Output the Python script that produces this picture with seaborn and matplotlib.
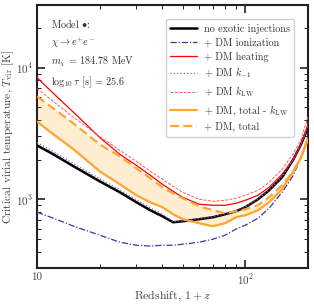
import numpy as np
import pandas as pd
import matplotlib
matplotlib.use("Agg")
import matplotlib.pyplot as plt
import seaborn as sns
from matplotlib.ticker import FixedLocator, FixedFormatter, NullFormatter

# Redshift (1+z)
redshift = [10, 12, 15, 20, 25, 30, 35, 40, 45, 50, 60, 70, 80, 90, 100, 115, 130, 150, 170, 185, 200]

# Critical virial temperature [K]
t_none = [2565, 2193, 1778, 1369, 1130, 949, 825, 743, 669, 681, 706, 731, 770, 811, 870, 1000, 1170, 1468, 2009, 2610, 3510]
t_ion = [797, 718, 624, 534, 472, 448, 441, 448, 448, 456, 472, 498, 534, 593, 636, 718, 855, 1130, 1520, 2081, 2950]
t_heat = [8400, 6356, 4563, 2950, 2193, 1810, 1520, 1299, 1150, 1036, 917, 901, 901, 933, 983, 1072, 1233, 1547, 2009, 2610, 3700]
t_km1 = [2700, 2300, 1860, 1430, 1180, 990, 860, 770, 675, 686, 711, 736, 775, 816, 875, 1005, 1175, 1475, 2020, 2620, 3520]
t_klw = [6934, 5527, 4180, 3000, 2350, 1940, 1630, 1418, 1254, 1130, 1000, 966, 983, 1018, 1072, 1170, 1345, 1688, 2230, 2848, 4254]
t_tot_noklw = [3899, 3108, 2392, 1630, 1299, 1072, 949, 870, 770, 706, 658, 624, 658, 731, 756, 825, 949, 1191, 1630, 2081, 2848]
t_tot = [6026, 4893, 3765, 2610, 2117, 1717, 1443, 1233, 1110, 1018, 885, 825, 783, 811, 840, 901, 1036, 1277, 1630, 2081, 2950]

labels = ["no exotic injections", "+ DM ionization", "+ DM heating", r"+ DM $k_{-1}$",
          r"+ DM $k_{\rm LW}$", r"+ DM, total - $k_{\rm LW}$", "+ DM, total"]

sns.set_theme(style="ticks")
plt.rcParams.update({
    "font.family": "serif",
    "font.serif": ["cmr10", "DejaVu Serif"],
    "mathtext.fontset": "cm",
    "axes.unicode_minus": False,
    "axes.formatter.use_mathtext": True,
})

fig = plt.figure(figsize=(3.14, 3.04), dpi=100)
ax = fig.add_axes([0.118, 0.118, 0.863, 0.866])

ax.fill_between(redshift, t_tot_noklw, t_tot, color="#FFA500", alpha=0.18, lw=0, zorder=1)

styles = [
    (t_none, "black", "-", 1.8, labels[0]),
    (t_ion, "#3a3aa8", (0, (5, 1.5, 1, 1.5)), 0.9, labels[1]),
    (t_heat, "red", "-", 0.9, labels[2]),
    (t_km1, "#9a4fd0", ":", 0.9, labels[3]),
    (t_klw, "#f06060", (0, (3, 1.5)), 0.7, labels[4]),
    (t_tot_noklw, "#FFA530", "-", 1.6, labels[5]),
    (t_tot, "#FFA530", (0, (4, 2)), 1.6, labels[6]),
]
for vals, col, ls, lw, lab in styles:
    sns.lineplot(x=redshift, y=vals, color=col, linestyle=ls, linewidth=lw,
                 label=lab, ax=ax, sort=False, zorder=3)

ax.set_xscale("log")
ax.set_yscale("log")
ax.set_xlim(10, 200)
ax.set_ylim(300, 30000)

ax.xaxis.set_major_locator(FixedLocator([10, 100]))
ax.xaxis.set_major_formatter(FixedFormatter(["10", r"$10^2$"]))
ax.xaxis.set_minor_locator(FixedLocator([20, 30, 40, 50, 60, 70, 80, 90, 200]))
ax.xaxis.set_minor_formatter(NullFormatter())
ax.yaxis.set_major_locator(FixedLocator([1000, 10000]))
ax.yaxis.set_major_formatter(FixedFormatter([r"$10^3$", r"$10^4$"]))
ax.yaxis.set_minor_locator(FixedLocator([400, 500, 600, 700, 800, 900,
                                         2000, 3000, 4000, 5000, 6000, 7000, 8000, 9000, 20000]))
ax.yaxis.set_minor_formatter(NullFormatter())

ax.tick_params(which="both", direction="in", top=True, right=True, colors="#222222",
               labelcolor="#444444", labelsize=8)
ax.tick_params(which="major", length=6, width=1.2, pad=3)
ax.tick_params(which="minor", length=3, width=0.7)
for s in ax.spines.values():
    s.set_linewidth(1.5)
    s.set_color("#222222")

ax.set_xlabel(r"Redshift, $1+z$", fontsize=8.5, color="#444444", labelpad=1)
ax.set_ylabel(r"Critical virial temperature, $T_{\rm vir}$ [K]", fontsize=8.2, color="#444444", labelpad=0)

txt = ("Model $\\bullet$:\n$\\chi \\rightarrow e^{+}e^{-}$\n"
       "$m_\\chi$ = 184.78 MeV\n$\\log_{10}\\tau$ [s] = 25.6")
ax.text(0.05, 0.955, txt, transform=ax.transAxes, ha="left", va="top",
        fontsize=7.3, color="#333333", linespacing=1.5)

leg = ax.legend(loc="upper right", fontsize=7.3, frameon=True, fancybox=True,
                framealpha=0.9, edgecolor="#cccccc", handlelength=2.6, handletextpad=0.7,
                borderpad=0.45, labelspacing=0.42, bbox_to_anchor=(0.968, 0.965))
for t in leg.get_texts():
    t.set_color("#333333")

fig.savefig("out.png", dpi=100)
